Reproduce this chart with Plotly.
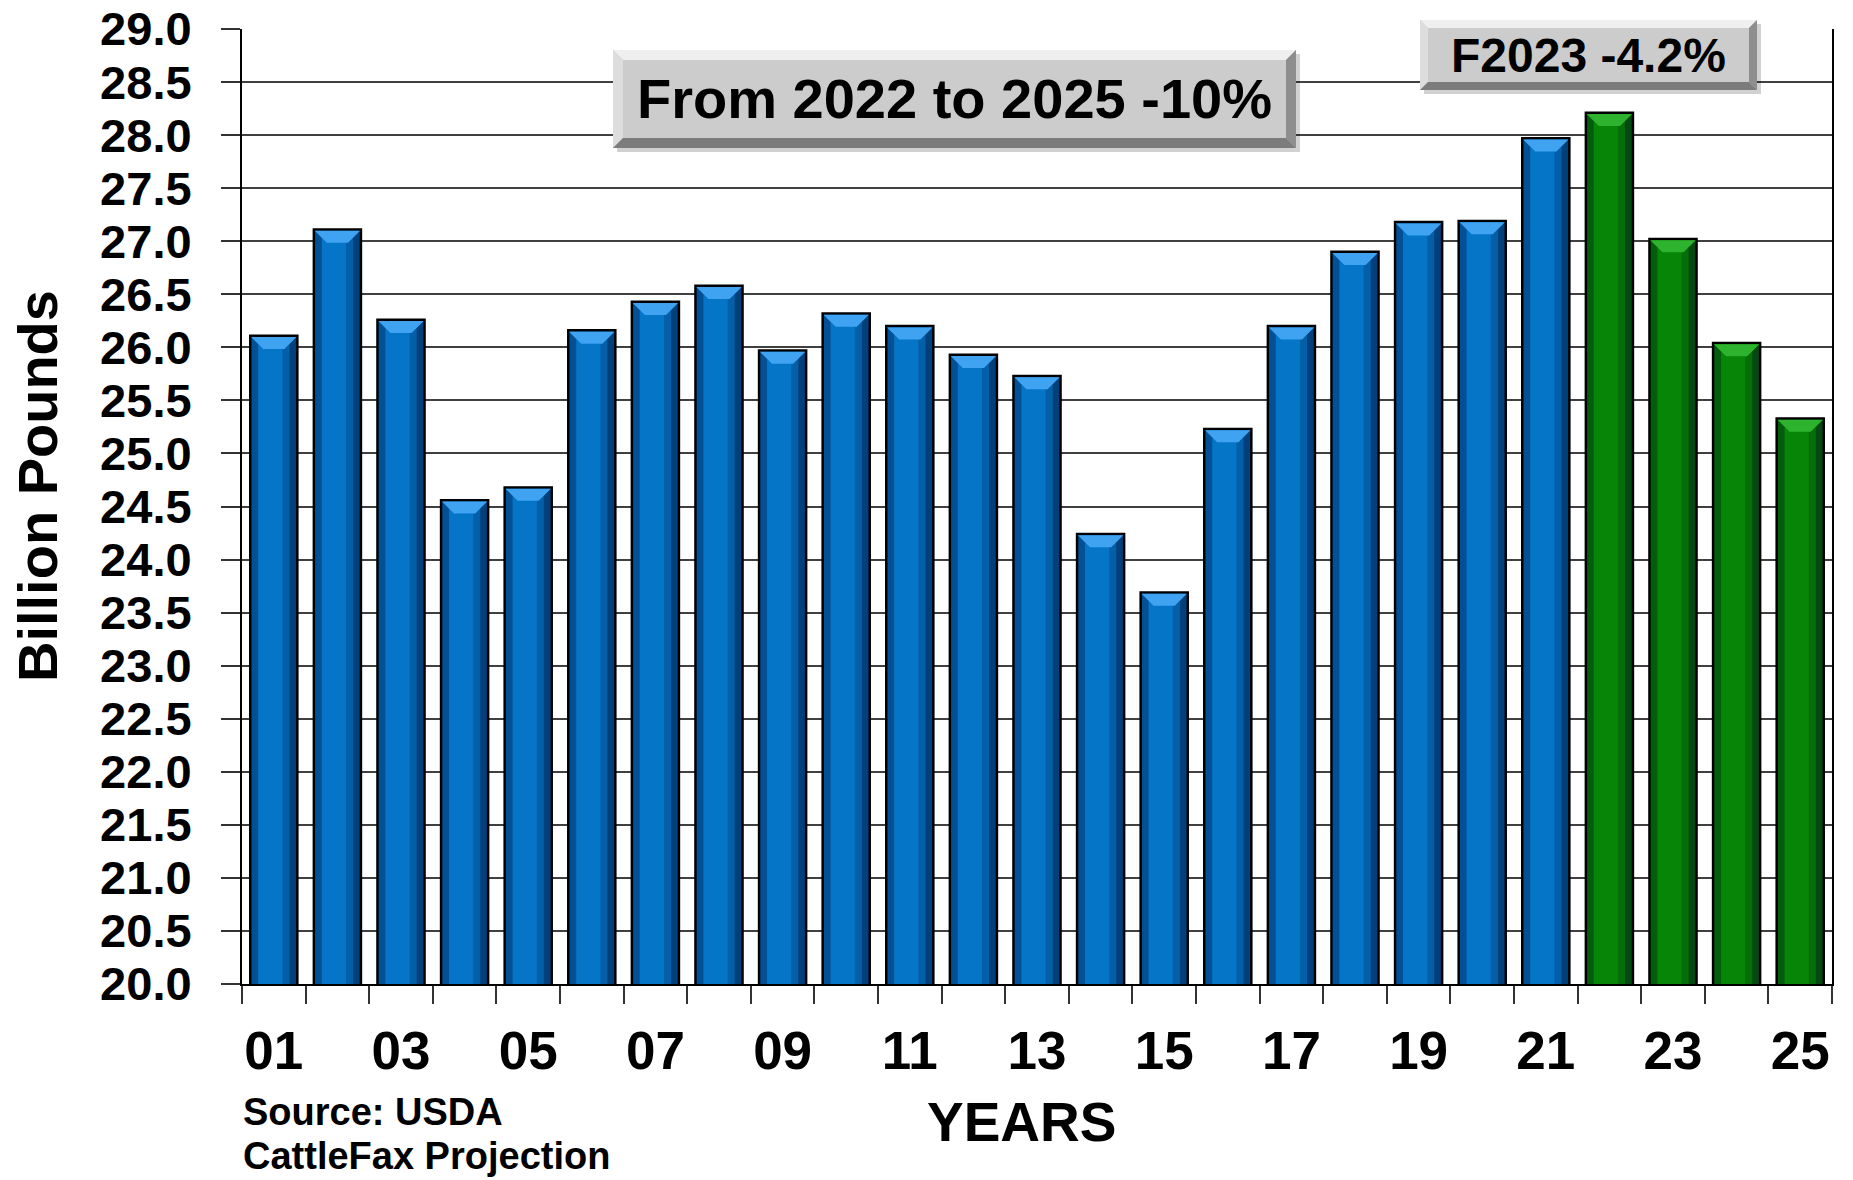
import plotly.graph_objects as go

# ---------------- data ----------------
categories = ["01", "02", "03", "04", "05", "06", "07", "08", "09", "10",
              "11", "12", "13", "14", "15", "16", "17", "18", "19", "20",
              "21", "22", "23", "24", "25"]
production = [26.11, 27.11, 26.26, 24.56, 24.68, 26.16, 26.43, 26.58, 25.97, 26.32,
              26.20, 25.93, 25.73, 24.24, 23.69, 25.23, 26.20, 26.90, 27.18, 27.19,
              27.97, 28.21, 27.02, 26.04, 25.33]
projected = [False] * 21 + [True] * 4
tick_labels = ["01", "", "03", "", "05", "", "07", "", "09", "",
               "11", "", "13", "", "15", "", "17", "", "19", "",
               "21", "", "23", "", "25"]
y_min, y_max = 20.0, 29.0
box_texts = ["From 2022 to 2025 -10%", "F2023 -4.2%"]
source_lines = ["Source: USDA", "CattleFax Projection"]

# ---------------- styling ----------------
W, H = 1853, 1180
ML, MR, MT, MB = 242, 21, 29, 196
PW, PH = W - ML - MR, H - MT - MB
FONT = "Liberation Sans, Arial, sans-serif"
BLUE, BLUE_LIGHT = "#0575C8", "#3FA3F2"
GREEN, GREEN_LIGHT = "#078507", "#2EB32E"
BARGAP = 0.26

def xp(px):
    return (px - ML) / PW

def yp(py):
    return (MT + PH - py) / PH

colors = [GREEN if p else BLUE for p in projected]
light = [GREEN_LIGHT if p else BLUE_LIGHT for p in projected]

fig = go.Figure()
fig.add_trace(go.Bar(
    x=categories, y=production,
    marker=dict(color=colors, line=dict(color="black", width=2.5)),
    hoverinfo="skip",
))

shapes = []
# bevel effect on bars (derived from the data values)
w = (1 - BARGAP) / 2
px_per_unit_y = PH / (y_max - y_min)
px_per_cat = PW / len(categories)
dy = 12 / px_per_unit_y
dx = 12 / px_per_cat
ds = 7 / px_per_cat
for i, v in enumerate(production):
    l, r = i - w + 0.015, i + w - 0.015
    top = v - 0.012
    shapes.append(dict(type="path", xref="x", yref="y", layer="above",
                       path=f"M {r},{top} L {r},{y_min} L {r-ds},{y_min} L {r-ds},{top-dy*ds/dx} Z",
                       fillcolor="rgba(0,0,30,0.45)", line=dict(width=0)))
    shapes.append(dict(type="path", xref="x", yref="y", layer="above",
                       path=f"M {r-ds},{top-dy*ds/dx} L {r-ds},{y_min} L {r-2*ds},{y_min} L {r-2*ds},{top-dy} Z",
                       fillcolor="rgba(0,0,30,0.18)", line=dict(width=0)))
    shapes.append(dict(type="path", xref="x", yref="y", layer="above",
                       path=f"M {l},{top} L {l},{y_min} L {l+ds},{y_min} L {l+ds},{top-dy*ds/dx} Z",
                       fillcolor="rgba(0,0,30,0.30)", line=dict(width=0)))
    shapes.append(dict(type="path", xref="x", yref="y", layer="above",
                       path=f"M {l},{top} L {r},{top} L {r-dx},{top-dy} L {l+dx},{top-dy} Z",
                       fillcolor=light[i], line=dict(width=0)))

# bevelled label boxes (paper coordinates)
def bevel_box(L, T, R, B, b=10):
    out = []
    def P(pts, col):
        path = "M " + " L ".join(f"{xp(a)},{yp(c)}" for a, c in pts) + " Z"
        out.append(dict(type="path", xref="paper", yref="paper", layer="above",
                        path=path, fillcolor=col, line=dict(width=0)))
    P([(L + 4, T + 4), (R + 4, T + 4), (R + 4, B + 4), (L + 4, B + 4)], "rgba(0,0,0,0.18)")
    P([(L, T), (R, T), (R, B), (L, B)], "#C9C9C9")
    P([(L, T), (R, T), (R - b, T + b), (L + b, T + b)], "#EFEFEF")
    P([(L, T), (L + b, T + b), (L + b, B - b), (L, B)], "#DDDDDD")
    P([(R, T), (R, B), (R - b, B - b), (R - b, T + b)], "#8E8E8E")
    P([(L, B), (R, B), (R - b, B - b), (L + b, B - b)], "#7C7C7C")
    P([(L + b, T + b), (R - b, T + b), (R - b, B - b), (L + b, B - b)], "#CCCCCC")
    return out

box1 = (613, 50, 1296, 148)
box2 = (1420, 20, 1757, 90)
shapes += bevel_box(*box1)
shapes += bevel_box(*box2, b=8)

annotations = [
    dict(text=f"<b>{box_texts[0]}</b>", x=xp((box1[0] + box1[2]) / 2), y=yp((box1[1] + box1[3]) / 2),
         xref="paper", yref="paper", showarrow=False, xanchor="center", yanchor="middle",
         font=dict(family=FONT, size=56, color="black")),
    dict(text=f"<b>{box_texts[1]}</b>", x=xp((box2[0] + box2[2]) / 2), y=yp((box2[1] + box2[3]) / 2),
         xref="paper", yref="paper", showarrow=False, xanchor="center", yanchor="middle",
         font=dict(family=FONT, size=48, color="black")),
    dict(text="<b>YEARS</b>", x=xp(1022), y=yp(1122), xref="paper", yref="paper",
         showarrow=False, xanchor="center", yanchor="middle",
         font=dict(family=FONT, size=55, color="black")),
    dict(text="<b>Billion Pounds</b>", x=xp(37), y=yp(486), xref="paper", yref="paper",
         showarrow=False, xanchor="center", yanchor="middle", textangle=-90,
         font=dict(family=FONT, size=56, color="black")),
    dict(text=f"<b>{source_lines[0]}</b>", x=xp(241), y=yp(1112), xref="paper", yref="paper",
         showarrow=False, xanchor="left", yanchor="middle",
         font=dict(family=FONT, size=38, color="black")),
    dict(text=f"<b>{source_lines[1]}</b>", x=xp(241), y=yp(1156), xref="paper", yref="paper",
         showarrow=False, xanchor="left", yanchor="middle",
         font=dict(family=FONT, size=38, color="black")),
]

fig.update_layout(
    width=W, height=H,
    margin=dict(l=ML, r=MR, t=MT, b=MB, pad=0, autoexpand=False),
    paper_bgcolor="white", plot_bgcolor="white",
    bargap=BARGAP, showlegend=False,
    shapes=shapes, annotations=annotations,
    font=dict(family=FONT, color="black"),
)
fig.update_xaxes(
    type="category", categoryorder="array", categoryarray=categories,
    tickmode="array", tickvals=categories, ticktext=tick_labels, tickangle=0,
    tickson="boundaries", ticks="outside", ticklen=18, tickwidth=1.5, tickcolor="#333333",
    showline=True, linecolor="black", linewidth=2, showgrid=False,
    tickfont=dict(family=FONT, size=53, color="black", weight="bold"),
    ticklabelstandoff=19, automargin=False, ticklabeloverflow="allow",
)
fig.update_yaxes(
    range=[y_min, y_max], tick0=y_min, dtick=0.5, tickformat=".1f",
    showgrid=True, gridcolor="#404040", gridwidth=2,
    showline=True, linecolor="black", linewidth=2, mirror=True,
    ticks="outside", ticklen=19, tickwidth=2, tickcolor="#333333",
    zeroline=False,
    tickfont=dict(family=FONT, size=47, color="black", weight="bold"),
    ticklabelstandoff=20, automargin=False, ticklabeloverflow="allow",
)

fig.write_html("out.html", config={"displayModeBar": False},
               post_script="document.body.style.margin='0';document.body.style.overflow='hidden';")
